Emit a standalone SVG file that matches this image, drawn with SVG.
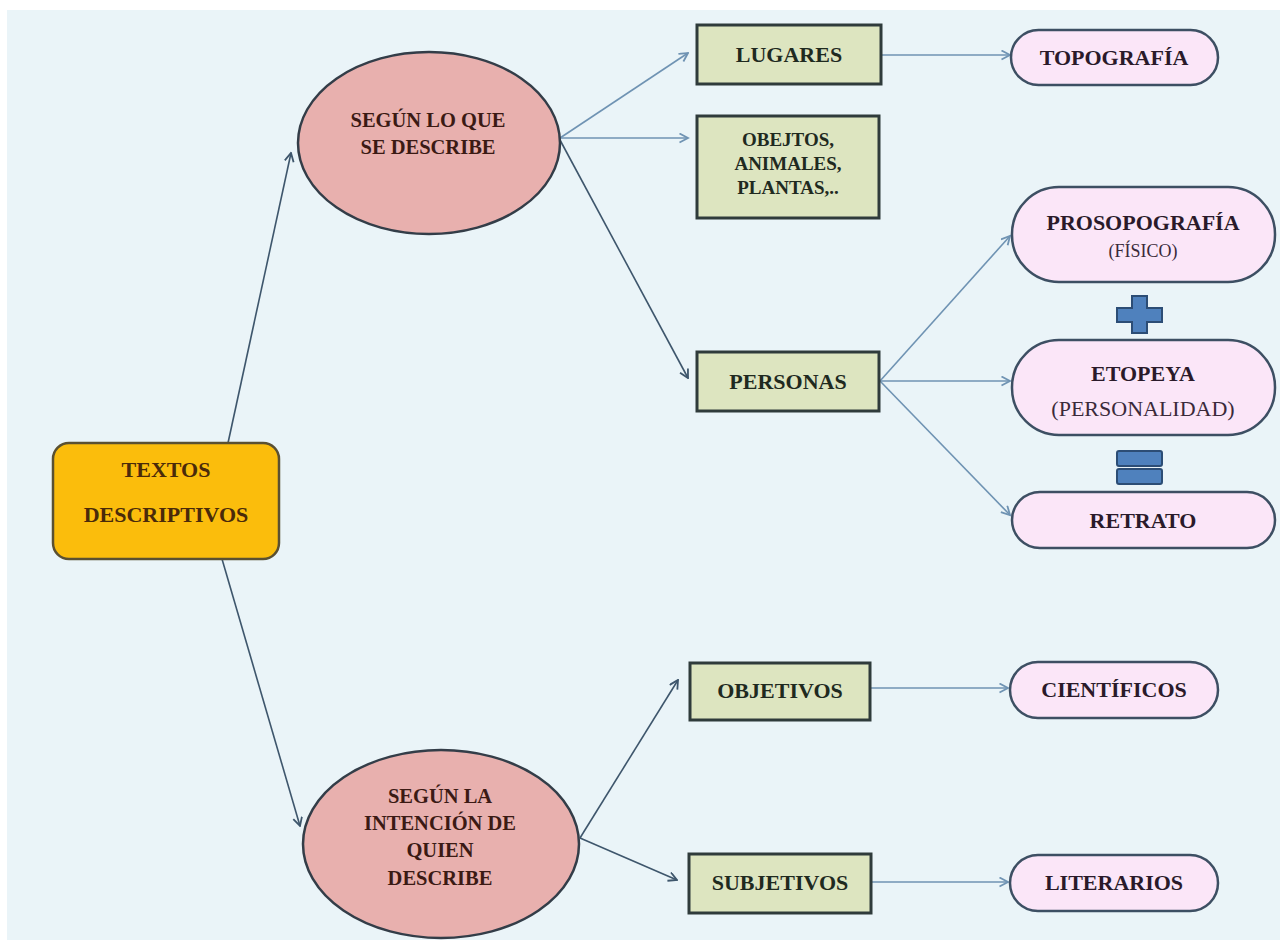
<svg xmlns="http://www.w3.org/2000/svg" width="1285" height="948" viewBox="0 0 1285 948">
<style>
.t{font-family:"Liberation Serif","Times New Roman",serif;font-weight:bold;text-anchor:middle}
.n{font-family:"Liberation Serif","Times New Roman",serif;font-weight:normal;text-anchor:middle}
.box{fill:#dde5c0;stroke:#2f3b3b;stroke-width:3}
.pill{fill:#fbe6f8;stroke:#3d4f63;stroke-width:2.5}
.ell{fill:#e8b0ae;stroke:#333d48;stroke-width:2.5}
.dk{stroke:#3e566c;stroke-width:1.6;fill:none;marker-end:url(#ad)}
.lt{stroke:#6f93b3;stroke-width:1.6;fill:none;marker-end:url(#al)}
.sym{fill:#4f81bd;stroke:#2c4d75;stroke-width:2}
</style>
<defs>
<marker id="ad" markerWidth="11" markerHeight="11" refX="9.5" refY="5" orient="auto" markerUnits="userSpaceOnUse"><path d="M1,0.5 L9.5,5 L1,9.5" fill="none" stroke="#3e566c" stroke-width="1.8"/></marker>
<marker id="al" markerWidth="11" markerHeight="11" refX="9.5" refY="5" orient="auto" markerUnits="userSpaceOnUse"><path d="M1,0.5 L9.5,5 L1,9.5" fill="none" stroke="#6f93b3" stroke-width="1.8"/></marker>
</defs>
<rect x="0" y="0" width="1285" height="948" fill="#ffffff"/>
<rect x="7" y="10" width="1273" height="930" fill="#eaf4f8"/>
<g id="connectors">
<path class="dk" d="M228,443 L291,153"/>
<path class="dk" d="M222,559 L300,826"/>
<path class="lt" d="M560,138 L688,53"/>
<path class="lt" d="M560,138 L688,138"/>
<path class="dk" d="M560,140 L688,378"/>
<path class="lt" d="M882,55 L1010,55"/>
<path class="lt" d="M880,381 L1010,236"/>
<path class="lt" d="M880,381 L1010,381"/>
<path class="lt" d="M880,381 L1010,515"/>
<path class="dk" d="M580,838 L678,680"/>
<path class="dk" d="M580,838 L677,880"/>
<path class="lt" d="M870,688 L1008,688"/>
<path class="lt" d="M871,882 L1008,882"/>
</g>
<g id="textos">
<rect x="53" y="443" width="226" height="116" rx="16" fill="#fbbd0c" stroke="#5a5032" stroke-width="2.5"/>
<text class="t" x="166" y="477" font-size="22" fill="#4a2a0a">TEXTOS</text>
<text class="t" x="166" y="522" font-size="22" fill="#4a2a0a">DESCRIPTIVOS</text>
</g>
<g id="segun1">
<ellipse class="ell" cx="429" cy="143" rx="131" ry="91"/>
<text class="t" x="428" y="127" font-size="20.5" fill="#3b1a14">SEGÚN LO QUE</text>
<text class="t" x="428" y="154" font-size="20.5" fill="#3b1a14">SE DESCRIBE</text>
</g>
<g id="segun2">
<ellipse class="ell" cx="441" cy="844" rx="138" ry="94"/>
<text class="t" x="440" y="803" font-size="20.5" fill="#3b1a14">SEGÚN LA</text>
<text class="t" x="440" y="830" font-size="20.5" fill="#3b1a14">INTENCIÓN DE</text>
<text class="t" x="440" y="857" font-size="20.5" fill="#3b1a14">QUIEN</text>
<text class="t" x="440" y="885" font-size="20.5" fill="#3b1a14">DESCRIBE</text>
</g>
<g id="lugares">
<rect class="box" x="697" y="25" width="184" height="59"/>
<text class="t" x="789" y="62" font-size="22" fill="#1f2a1f">LUGARES</text>
</g>
<g id="objetos">
<rect class="box" x="697" y="116" width="182" height="102"/>
<text class="t" x="788" y="146" font-size="19" fill="#1f2a1f">OBEJTOS,</text>
<text class="t" x="788" y="170" font-size="19" fill="#1f2a1f">ANIMALES,</text>
<text class="t" x="788" y="194" font-size="19" fill="#1f2a1f">PLANTAS,..</text>
</g>
<g id="personas">
<rect class="box" x="697" y="352" width="182" height="59"/>
<text class="t" x="788" y="389" font-size="22" fill="#1f2a1f">PERSONAS</text>
</g>
<g id="objetivos">
<rect class="box" x="690" y="663" width="180" height="57"/>
<text class="t" x="780" y="698" font-size="22" fill="#1f2a1f">OBJETIVOS</text>
</g>
<g id="subjetivos">
<rect class="box" x="689" y="854" width="182" height="59"/>
<text class="t" x="780" y="890" font-size="22" fill="#1f2a1f">SUBJETIVOS</text>
</g>
<g id="topografia">
<rect class="pill" x="1011" y="30" width="207" height="55" rx="27.5"/>
<text class="t" x="1114" y="65" font-size="22" fill="#2a1a2a">TOPOGRAFÍA</text>
</g>
<g id="prosopografia">
<rect class="pill" x="1012" y="187" width="263" height="95" rx="47"/>
<text class="t" x="1143" y="230" font-size="22" fill="#2a1a2a">PROSOPOGRAFÍA</text>
<text class="n" x="1143" y="257" font-size="18" fill="#3a2a3a">(FÍSICO)</text>
</g>
<g id="mas">
<path class="sym" d="M1132,296 H1147 V308 H1162 V322 H1147 V333 H1132 V322 H1117 V308 H1132 Z"/>
</g>
<g id="etopeya">
<rect class="pill" x="1012" y="340" width="263" height="95" rx="47"/>
<text class="t" x="1143" y="381" font-size="22" fill="#2a1a2a">ETOPEYA</text>
<text class="n" x="1143" y="416" font-size="22" fill="#3a2a3a">(PERSONALIDAD)</text>
</g>
<g id="igual">
<rect class="sym" x="1117" y="451" width="45" height="15" rx="2"/>
<rect class="sym" x="1117" y="469" width="45" height="15" rx="2"/>
</g>
<g id="retrato">
<rect class="pill" x="1012" y="492" width="263" height="56" rx="28"/>
<text class="t" x="1143" y="528" font-size="22" fill="#2a1a2a">RETRATO</text>
</g>
<g id="cientificos">
<rect class="pill" x="1010" y="662" width="208" height="56" rx="28"/>
<text class="t" x="1114" y="697" font-size="22" fill="#2a1a2a">CIENTÍFICOS</text>
</g>
<g id="literarios">
<rect class="pill" x="1010" y="855" width="208" height="56" rx="28"/>
<text class="t" x="1114" y="890" font-size="22" fill="#2a1a2a">LITERARIOS</text>
</g>
</svg>
